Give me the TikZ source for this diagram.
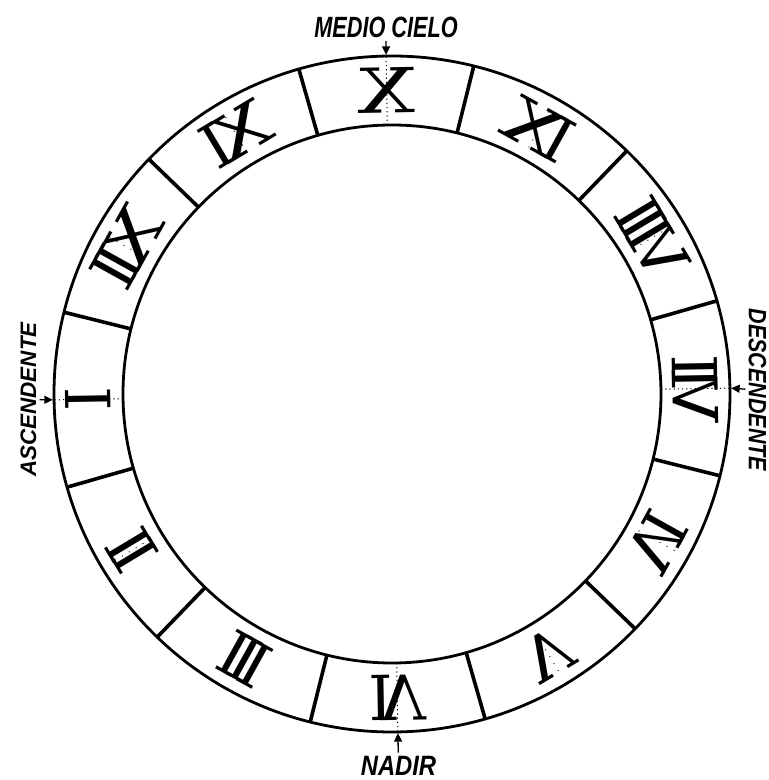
\documentclass[tikz,border=0pt]{standalone}
\usepackage{graphicx}
\usepackage{fontspec}
\usetikzlibrary{arrows.meta}
\newfontfamily\labfont{Liberation Sans}
\newfontfamily\numfont{DejaVu Serif}
\newcommand\nk{\kern-0.2em}
\newcommand\nX{\scalebox{1.3}[1]{X}}
\begin{document}
\begin{tikzpicture}[x=1pt,y=1pt,
  ring/.style={line width=2.8pt},
  divider/.style={line width=3.6pt},
  guide/.style={line width=1pt, dash pattern=on 1.2pt off 3pt},
  faintguide/.style={line width=0.9pt, dash pattern=on 1pt off 7pt},
  numeral/.style={inner sep=0pt, font={\numfont\fontsize{62}{62}\selectfont}},
  lab/.style={inner sep=0pt},
  pointer/.style={line width=1.3pt, -{Triangle[length=8.5pt,width=8pt]}, shorten <=3pt, shorten >=1.2pt}]
\useasboundingbox (0,0) rectangle (769,780);
\begin{scope}[shift={(392,386)}]
  \draw[ring] (0,0) circle[radius=338];
  \draw[ring] (0,0) circle[radius=269];
  \foreach \a in {16,46,...,346}
    \draw[divider] (\a:269) -- (\a:338);
  \foreach \a in {1,91,181,271}
    \draw[guide] (\a:269) -- (\a:338);
  \foreach \a in {31,61,121,151,211,241,301,331}
    \draw[faintguide] (\a:282) -- (\a:326);
  \foreach \txt/\t/\k in {I/181/1, {I\nk I}/211/2, {I\nk I\nk I}/241/3, {I\nk V}/271/4,
      V/301/5, {V\nk I}/331/6, {V\nk I\nk I}/1/7, {V\nk I\nk I\nk I}/31/8,
      {I\nk\nX}/61/9, {\nX}/91/10, {\nX\nk I}/121/11, {\nX\nk I\nk I}/151/12}
    \node[numeral, rotate=\t-90, xscale=-1] (h\k) at (\t:303.5) {\txt};
  \coordinate (mc) at (91:338);
  \coordinate (nd) at (271:338);
  \coordinate (as) at (181:338);
  \coordinate (ds) at (1:338);
\end{scope}
\node[lab, font={\labfont\bfseries\itshape\fontsize{29.3}{30}\selectfont}, xscale=0.74] (lmc) at (386,752.5) {MEDIO CIELO};
\node[lab, font={\labfont\bfseries\itshape\fontsize{28}{29}\selectfont}, xscale=0.85] (lnd) at (398.5,14.5) {NADIR};
\node[lab, font={\labfont\bfseries\itshape\fontsize{22.4}{23}\selectfont}, rotate=90] (las) at (28.5,380.5) {ASCENDENTE};
\node[lab, font={\labfont\bfseries\itshape\fontsize{25}{26}\selectfont}, rotate=-90, xscale=0.86] (lds) at (757.5,390) {DESCENDENTE};
\draw[pointer] (lmc) -- (mc);
\draw[pointer] (lnd) -- (nd);
\draw[pointer] (las) -- (as);
\draw[pointer] (lds) -- (ds);
\end{tikzpicture}
\end{document}
